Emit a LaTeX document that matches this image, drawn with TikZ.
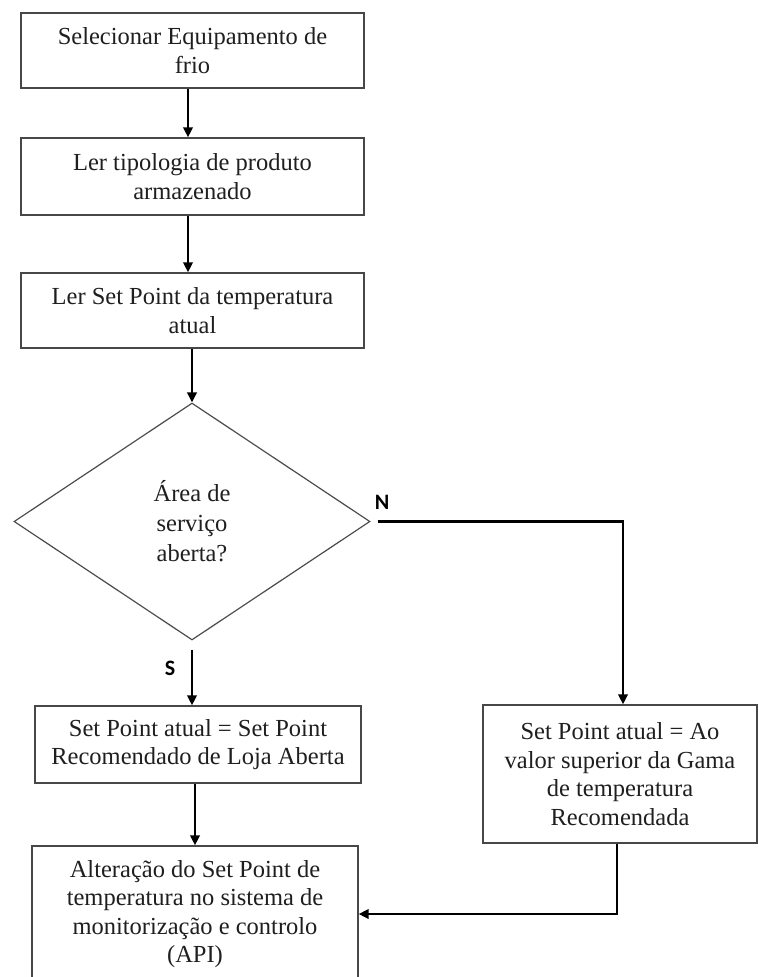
\documentclass[tikz,border=0pt]{standalone}
\usepackage{fontspec}
\setmainfont{Liberation Serif}
\newfontfamily\lblfont{Carlito}[BoldFont={Carlito Bold}]
\usetikzlibrary{shapes.geometric,arrows.meta}

\newcommand{\branchlabel}[1]{{\fontsize{22}{22}\selectfont\lblfont\bfseries #1}}

\tikzset{
  stepbox/.style={draw=black!72, line width=1.4pt, fill=white, inner sep=0pt,
    align=center, font=\fontsize{24.5}{28.5}\selectfont, text=black!88},
  decision/.style={diamond, draw=black!70, line width=1.2pt, inner sep=0pt,
    align=center, font=\fontsize{24.5}{30}\selectfont, text=black!88},
  flow/.style={draw=black, line width=2.3pt, -{Triangle[length=10pt,width=9.5pt]}},
  branch/.style={text=black, inner sep=0pt}
}

\begin{document}
\begin{tikzpicture}[x=1pt, y=-1pt]
  \useasboundingbox (0,0) rectangle (758,977);
  \clip (0,0) rectangle (758,977);

  % process steps
  \node[stepbox, minimum width=343pt, minimum height=75pt] (b1) at (192.5,50.5)
    {Selecionar Equipamento de\\frio};
  \node[stepbox, minimum width=343pt, minimum height=77pt] (b2) at (192.5,176.5)
    {Ler tipologia de produto\\armazenado};
  \node[stepbox, minimum width=343pt, minimum height=75pt] (b3) at (192.5,310.5)
    {Ler Set Point da temperatura\\atual};

  % decision
  \node[decision, minimum width=356pt, minimum height=237pt] (d) at (192,521.5)
    {Área de\\serviço\\aberta?};

  % outcomes
  \node[stepbox, minimum width=326pt, minimum height=77pt] (lb) at (198,744.5)
    {Set Point atual = Set Point\\Recomendado de Loja Aberta};
  \node[stepbox, minimum width=274pt, minimum height=138pt] (rb) at (620,774)
    {Set Point atual = Ao\\valor superior da Gama\\de temperatura\\Recomendada};
  \node[stepbox, minimum width=326pt, minimum height=136pt] (api) at (195,914)
    {Alteração do Set Point de\\temperatura no sistema de\\monitorização e controlo\\(API)};

  % connectors
  \draw[flow] ([xshift=-4.5pt]b1.south) -- ([xshift=-4.5pt]b2.north);
  \draw[flow] ([xshift=-4.5pt]b2.south) -- ([xshift=-4.5pt]b3.north);
  \draw[flow] (b3.south -| d.north) -- (d.north);

  \draw[flow] ([yshift=-9pt]d.south) -- (d.south |- lb.north);
  \node[branch] (s) at (170,668) {\branchlabel{S}};

  \draw[flow] ([xshift=7pt]d.east) -| ([xshift=3pt]rb.north);
  \node[branch] (n) at (382,502) {\branchlabel{N}};

  \draw[flow] ([xshift=-3pt]lb.south) -- ([xshift=-3pt]lb.south |- api.north);
  \draw[flow] ([xshift=-3pt]rb.south) |- (api.east);
\end{tikzpicture}
\end{document}
